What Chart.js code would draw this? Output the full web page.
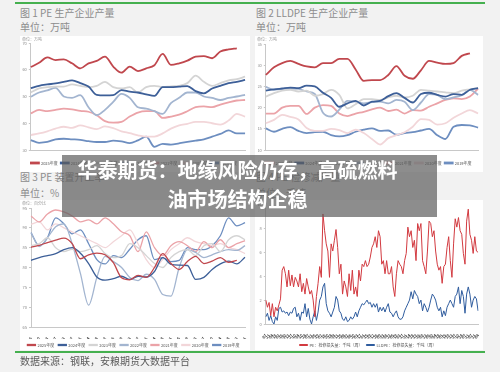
<!DOCTYPE html>
<html>
<head>
<meta charset="utf-8">
<script src="https://cdn.jsdelivr.net/npm/chart.js"></script>
<style>
body { margin:0; width:500px; height:372px; background:#f2f2f2; position:relative; overflow:hidden; font-family:"Noto Sans CJK SC", sans-serif; }
.rule { position:absolute; left:15px; width:470px; height:2px; background:#45b04f; z-index:3; }
.ttl { position:absolute; font-size:10px; line-height:12px; color:#8d8d8d; white-space:nowrap; }
.tiny { position:absolute; font-size:4px; line-height:5px; color:#999; white-space:nowrap; z-index:2; }
.panel { position:absolute; background:#fff; }
canvas { position:absolute; z-index:1; }
#src { position:absolute; left:20px; top:354px; font-size:10px; line-height:14px; color:#5a5a5a; white-space:nowrap; z-index:3; }
#cover { position:absolute; left:62px; top:155px; width:375px; height:62px; background:rgba(92,92,92,0.7); z-index:5; }
#cover div { box-sizing:border-box; padding:1px 24px 0 0; text-align:center; color:#fff; font-weight:bold; font-size:20px; line-height:28px; white-space:nowrap; }
</style>
</head>
<body>
<div class="rule" style="top:2px"></div>
<div class="ttl" style="left:20px;top:7px">图 1 PE 生产企业产量</div>
<div class="ttl" style="left:20px;top:21px">单位：万吨</div>
<div class="ttl" style="left:256px;top:7px">图 2 LLDPE 生产企业产量</div>
<div class="ttl" style="left:256px;top:21px">单位：万吨</div>
<div class="ttl" style="left:20px;top:171px">图 3 PE 装置开工率</div>
<div class="ttl" style="left:20px;top:187px">单位：%</div>
<div class="ttl" style="left:256px;top:171px">图 4 PE 检修减产量</div>
<div class="ttl" style="left:256px;top:187px">单位：千吨</div>

<div class="panel" style="left:20px;top:36px;width:230px;height:136px"></div>
<div class="panel" style="left:255px;top:36px;width:228px;height:136px"></div>
<div class="panel" style="left:20px;top:200px;width:230px;height:150px"></div>
<div class="panel" style="left:255px;top:200px;width:228px;height:150px"></div>

<canvas id="c1" width="230" height="139" style="left:20px;top:36px"></canvas>
<canvas id="c2" width="228" height="139" style="left:255px;top:36px"></canvas>
<canvas id="c3" width="230" height="157" style="left:20px;top:200px"></canvas>
<canvas id="c4" width="228" height="157" style="left:255px;top:200px"></canvas>
<div class="tiny" style="left:22px;top:37px">单位：万吨</div>
<div class="tiny" style="left:257px;top:37px">单位：万吨</div>
<div class="tiny" style="left:22px;top:201px">单位：百分比</div>

<div class="rule" style="top:351px"></div>
<div id="src">数据来源：钢联，安粮期货大数据平台</div>

<div id="cover"><div>华泰期货：地缘风险仍存，高硫燃料</div><div>油市场结构企稳</div></div>

<script>
// weekly ticks, one every second week
const weekLabels = ['25-01-06','25-01-20','25-02-03','25-02-17','25-03-03','25-03-17','25-03-31','25-04-14','25-04-28','25-05-12','25-05-26','25-06-09','25-06-23','25-07-07','25-07-21','25-08-04','25-08-18','25-09-01','25-09-15','25-09-29','25-10-13','25-10-27','25-11-10','25-11-24','25-12-08','25-12-22','25-12-31'];
const years = ['2025年度','2024年度','2023年度','2022年度','2021年度','2020年度','2019年度'];
const yearColors = ['#c0474d','#3d5f98','#d4d4d4','#a3b5d0','#eba3a8','#f2d6d9','#6d8ec0'];

// 图1 PE 产量（万吨）
const pe2025 = [61.0,62.6,64.6,63.6,63.9,62.4,60.5,62.4,63.3,64.9,61.2,58.9,61.2,59.5,60.5,61.7,65.9,61.8,62.4,63.4,64.9,65.1,64.3,66.8,67.6,68.0,null];
const pe2024 = [53.1,54.0,54.5,54.9,55.5,56.0,55.0,53.7,50.6,50.4,50.5,52.4,51.8,51.5,50.8,50.2,53.5,53.5,53.7,53.9,52.0,51.2,53.0,54.0,55.0,55.5,56.2];
const pe2023 = [51.5,53.0,53.5,53.7,53.7,54.5,54.0,53.5,54.0,55.5,53.5,53.0,53.5,51.5,53.5,54.0,53.5,53.8,54.0,55.0,57.8,55.5,54.0,55.0,56.0,56.5,57.4];
const pe2022 = [49.9,51.5,52.3,53.2,50.0,49.5,50.5,46.0,43.0,45.0,48.0,51.0,49.5,46.0,45.5,44.5,43.5,47.5,49.5,51.5,51.5,50.0,49.5,48.7,49.5,50.0,50.6];
const pe2021 = [43.7,45.0,44.5,45.0,45.5,45.2,44.6,44.3,43.0,40.8,40.2,40.5,42.5,44.0,44.5,44.5,42.0,42.5,43.2,44.5,46.0,46.3,46.0,47.0,47.8,48.5,48.7];
const pe2020 = [35.6,36.2,37.0,38.0,38.7,38.3,39.2,38.5,37.8,38.8,38.2,37.0,36.3,35.5,35.0,35.0,36.2,38.0,39.2,39.8,40.5,40.5,40.0,39.5,41.0,43.5,42.5];
const pe2019 = [33.7,32.7,33.0,34.0,34.2,34.0,33.8,33.3,33.0,33.0,33.5,33.2,32.6,33.6,35.0,31.2,32.3,32.0,32.5,33.0,33.5,34.0,35.0,36.0,37.3,36.2,36.2];

// 图2 LLDPE 产量（万吨）
const ll2025 = [27.7,29.5,30.5,31.0,30.3,29.7,29.5,30.5,30.5,31.5,31.5,29.0,26.3,26.5,26.5,27.7,29.8,27.5,26.8,28.8,31.0,30.6,30.3,30.5,32.2,32.8,null];
const ll2024 = [24.0,24.3,24.5,24.7,24.6,25.2,25.0,23.5,22.3,20.2,21.0,21.6,20.5,21.4,21.6,22.7,23.4,22.3,21.2,23.2,23.5,23.0,22.6,23.2,23.0,24.2,24.6];
const ll2023 = [22.6,23.4,24.0,24.2,23.8,24.0,22.8,23.2,24.2,23.0,19.8,20.8,22.0,22.0,21.8,22.4,22.8,22.4,22.8,24.2,24.0,23.8,23.6,23.4,24.0,24.3,24.6];
const ll2022 = [24.9,24.2,24.4,24.5,24.4,23.8,23.2,18.8,17.9,19.5,21.6,21.4,21.0,21.3,21.4,21.0,21.8,21.4,19.4,21.2,23.2,23.0,22.0,22.4,22.9,24.2,23.0];
const ll2021 = [18.6,18.6,20.0,20.4,20.4,18.5,20.0,20.6,20.4,18.6,18.0,18.6,19.0,19.6,20.0,19.2,19.5,18.6,19.4,19.3,20.2,21.0,21.8,22.2,22.0,22.6,24.5];
const ll2020 = [16.3,17.1,18.3,17.8,17.2,15.2,14.5,14.5,15.0,14.7,14.0,14.8,14.0,12.6,11.3,12.8,13.5,14.2,15.5,17.3,17.1,16.0,16.3,17.6,18.6,19.4,18.6];
const ll2019 = [15.1,14.3,15.0,15.4,14.5,14.0,14.2,14.3,13.5,13.2,13.5,14.3,14.8,15.1,14.5,14.6,13.6,14.0,14.2,14.6,15.0,13.5,12.6,15.5,15.9,15.8,15.3];

// 图3 PE 开工率（%）
const op2025 = [85.1,85.6,86.3,86.9,87.4,86.0,82.2,83.2,83.6,83.2,81.2,77.4,76.9,78.0,77.5,80.0,83.5,81.0,79.5,81.5,82.8,81.0,81.6,82.5,81.3,81.8,null];
const op2024 = [81.8,82.5,83.0,83.5,84.5,85.0,83.6,81.0,77.6,76.8,77.2,77.8,77.0,77.8,77.6,79.0,82.5,80.8,80.6,80.5,77.0,77.5,79.5,80.9,81.6,80.9,82.6];
const op2023 = [85.5,86.0,87.5,85.0,84.0,84.6,84.0,84.5,85.5,83.5,82.5,83.0,86.0,85.0,83.0,81.0,80.0,82.5,84.0,84.5,83.0,85.5,86.0,84.0,87.0,88.0,87.0];
const op2022 = [88.8,85.3,87.5,90.3,91.0,86.0,78.5,70.5,77.5,82.8,81.5,80.0,77.5,76.7,78.3,77.0,73.2,72.8,80.0,84.5,83.8,82.5,83.2,84.0,84.5,84.3,85.5];
const op2021 = [93.0,91.5,93.5,94.5,94.0,93.0,91.5,92.0,91.0,92.5,91.0,89.0,88.0,84.0,89.0,85.0,83.0,85.5,86.5,85.5,84.0,86.5,85.0,87.0,85.0,86.0,86.8];
const op2020 = [90.9,91.5,89.5,91.0,90.0,89.0,88.0,87.0,86.0,85.0,86.5,88.0,89.5,86.0,82.0,80.0,82.0,84.5,86.0,87.5,86.5,86.0,85.5,86.0,85.0,84.5,83.5];
const op2019 = [88.8,85.5,87.5,92.5,91.0,88.5,89.5,86.0,82.0,80.9,83.0,82.5,84.6,87.0,88.0,82.0,82.5,81.5,81.8,85.0,84.5,84.5,85.5,88.0,92.5,90.5,91.3];

// 图4 检修损失量（千吨/周）
const mtPE = [2.0,1.4,1.8,0.7,1.7,0.6,1.4,1.1,1.6,2.1,
  4.5,4.8,4.2,3.1,4.5,3.2,4.1,3.1,3.9,3.6,
  3.1,4.2,2.7,3.4,2.5,3.8,3.1,2.5,2.8,2.0,
  0.6,2.3,3.4,4.8,3.9,9.2,7.8,6.7,6.1,3.9,
  6.7,6.1,7.0,7.9,6.4,4.2,5.0,2.5,3.6,3.1,
  2.3,4.2,2.8,4.5,2.5,3.1,2.3,4.5,3.6,5.0,
  4.8,5.3,4.8,5.0,5.6,6.4,6.7,7.3,6.4,7.8,
  7.3,5.0,5.3,4.2,5.3,4.2,4.2,4.8,3.1,2.3,
  4.2,5.3,5.0,4.8,4.2,5.3,5.9,8.1,7.3,7.8,
  6.4,7.0,5.3,8.4,7.8,8.4,5.3,4.8,4.2,6.1,
  8.6,8.4,7.3,7.8,6.1,5.0,4.5,4.8,3.4,4.8,
  5.0,6.4,7.3,5.3,3.9,6.7,8.8,8.1,8.9,7.8,
  7.5,5.9,5.0,8.6,9.6,7.5,7.0,5.9,7.3,6.1,
  6.0];
const mtLL = [0.6,0.9,0.3,0.7,0.2,0.0,0.6,0.3,1.3,1.4,
  1.0,1.1,0.9,1.0,0.7,1.0,0.9,1.3,1.4,0.6,
  0.9,0.3,1.0,0.9,1.7,0.6,1.3,0.4,0.0,0.6,
  1.1,0.3,1.0,2.0,2.3,3.1,3.4,1.7,1.1,0.9,
  0.6,1.0,1.4,2.3,2.0,1.1,0.9,0.4,0.3,0.6,
  0.2,0.3,0.6,0.4,0.6,1.0,0.6,1.1,1.4,1.7,
  1.6,1.8,2.0,1.7,1.8,1.4,1.7,1.4,1.7,1.0,
  1.4,1.1,1.4,1.0,1.4,1.7,1.0,0.9,0.6,0.9,
  1.1,0.6,0.4,0.4,0.6,1.1,1.4,1.7,2.0,2.7,
  2.1,2.8,2.5,2.3,1.7,2.0,1.1,1.7,1.4,1.0,
  1.4,2.0,2.5,2.3,2.0,1.4,1.1,1.4,0.6,1.1,
  0.7,1.4,1.7,2.0,1.7,1.4,2.3,2.5,3.1,1.7,
  2.8,2.3,0.9,2.5,3.1,2.5,1.4,2.0,2.3,2.1,
  1.1];
// weekly dates for chart 4 categories
const mtStart = new Date(2022, 9, 7);
const mtLabels = mtPE.map((_, i) => {
    let d = new Date(mtStart.getFullYear(), mtStart.getMonth(), mtStart.getDate() + i * 7);
    return String(d.getFullYear()).slice(2) + '-' + String(d.getMonth() + 1).padStart(2, '0') + '-' + String(d.getDate()).padStart(2, '0');
});

const tickFont = { size: 4, family: 'Noto Sans CJK SC' };
const axisColor = '#c8c8c8';

function yearSets(arrays, width) {
    return arrays.map((arr, i) => ({
        label: years[i],
        data: arr,
        borderColor: yearColors[i],
        backgroundColor: yearColors[i],
        borderWidth: width,
        pointRadius: 0,
        tension: 0.4,
        cubicInterpolationMode: 'monotone'
    }));
}

function makeChart(id, labels, datasets, y, box) {
    return new Chart(document.getElementById(id), {
        type: 'line',
        data: { labels: labels, datasets: datasets },
        options: {
            responsive: false,
            animation: false,
            devicePixelRatio: 1,
            layout: { padding: { top: box.top, right: box.right, left: 0, bottom: 0 } },
            plugins: {
                tooltip: { enabled: false },
                legend: {
                    position: 'bottom',
                    labels: { font: { size: 4, family: 'Noto Sans CJK SC' }, color: '#555', boxWidth: 8, boxHeight: 1, padding: box.legendPad }
                }
            },
            scales: {
                x: {
                    grid: { display: false },
                    border: { color: axisColor },
                    ticks: {
                        font: { size: 4, family: 'Noto Sans CJK SC', weight: 'bold' }, color: '#444', autoSkip: false,
                        minRotation: 55, maxRotation: 55, padding: 1,
                        callback: box.xCallback
                    },
                    afterFit: s => { s.height = box.xh; }
                },
                y: {
                    min: y[0], max: y[1],
                    ticks: { stepSize: y[2], font: tickFont, color: '#888', padding: 2 },
                    grid: { drawOnChartArea: false, tickLength: 2, color: axisColor },
                    border: { color: axisColor },
                    afterFit: s => { s.width = box.yw; }
                }
            }
        }
    });
}

function weekTick(v, i) { return weekLabels[i]; }

makeChart('c1', weekLabels, yearSets([pe2025, pe2024, pe2023, pe2022, pe2021, pe2020, pe2019], 1.8),
    [30, 70, 10], { top: 7, right: 2, yw: 10, xh: 8, legendPad: 3, xCallback: weekTick });
makeChart('c2', weekLabels, yearSets([ll2025, ll2024, ll2023, ll2022, ll2021, ll2020, ll2019], 1.8),
    [10, 35, 5], { top: 8, right: 1, yw: 8, xh: 8, legendPad: 3, xCallback: weekTick });
makeChart('c3', weekLabels, yearSets([op2025, op2024, op2023, op2022, op2021, op2020, op2019], 1.3),
    [65, 95, 5], { top: 8, right: 3, yw: 11, xh: 12, legendPad: 4, xCallback: weekTick });

makeChart('c4', mtLabels, [
    { label: 'PE：检修损失量：千吨（周）', data: mtPE, borderColor: '#d23a40', backgroundColor: '#d23a40', borderWidth: 1, pointRadius: 0, tension: 0 },
    { label: 'LLDPE：检修损失量：千吨（周）', data: mtLL, borderColor: '#2f5c9e', backgroundColor: '#2f5c9e', borderWidth: 1, pointRadius: 0, tension: 0 }
], [0, 10, 2], { top: 4, right: 2, yw: 10, xh: 15, legendPad: 4, xCallback: function (v, i) { return i % 2 === 0 ? mtLabels[i] : ''; } });
</script>
</body>
</html>
